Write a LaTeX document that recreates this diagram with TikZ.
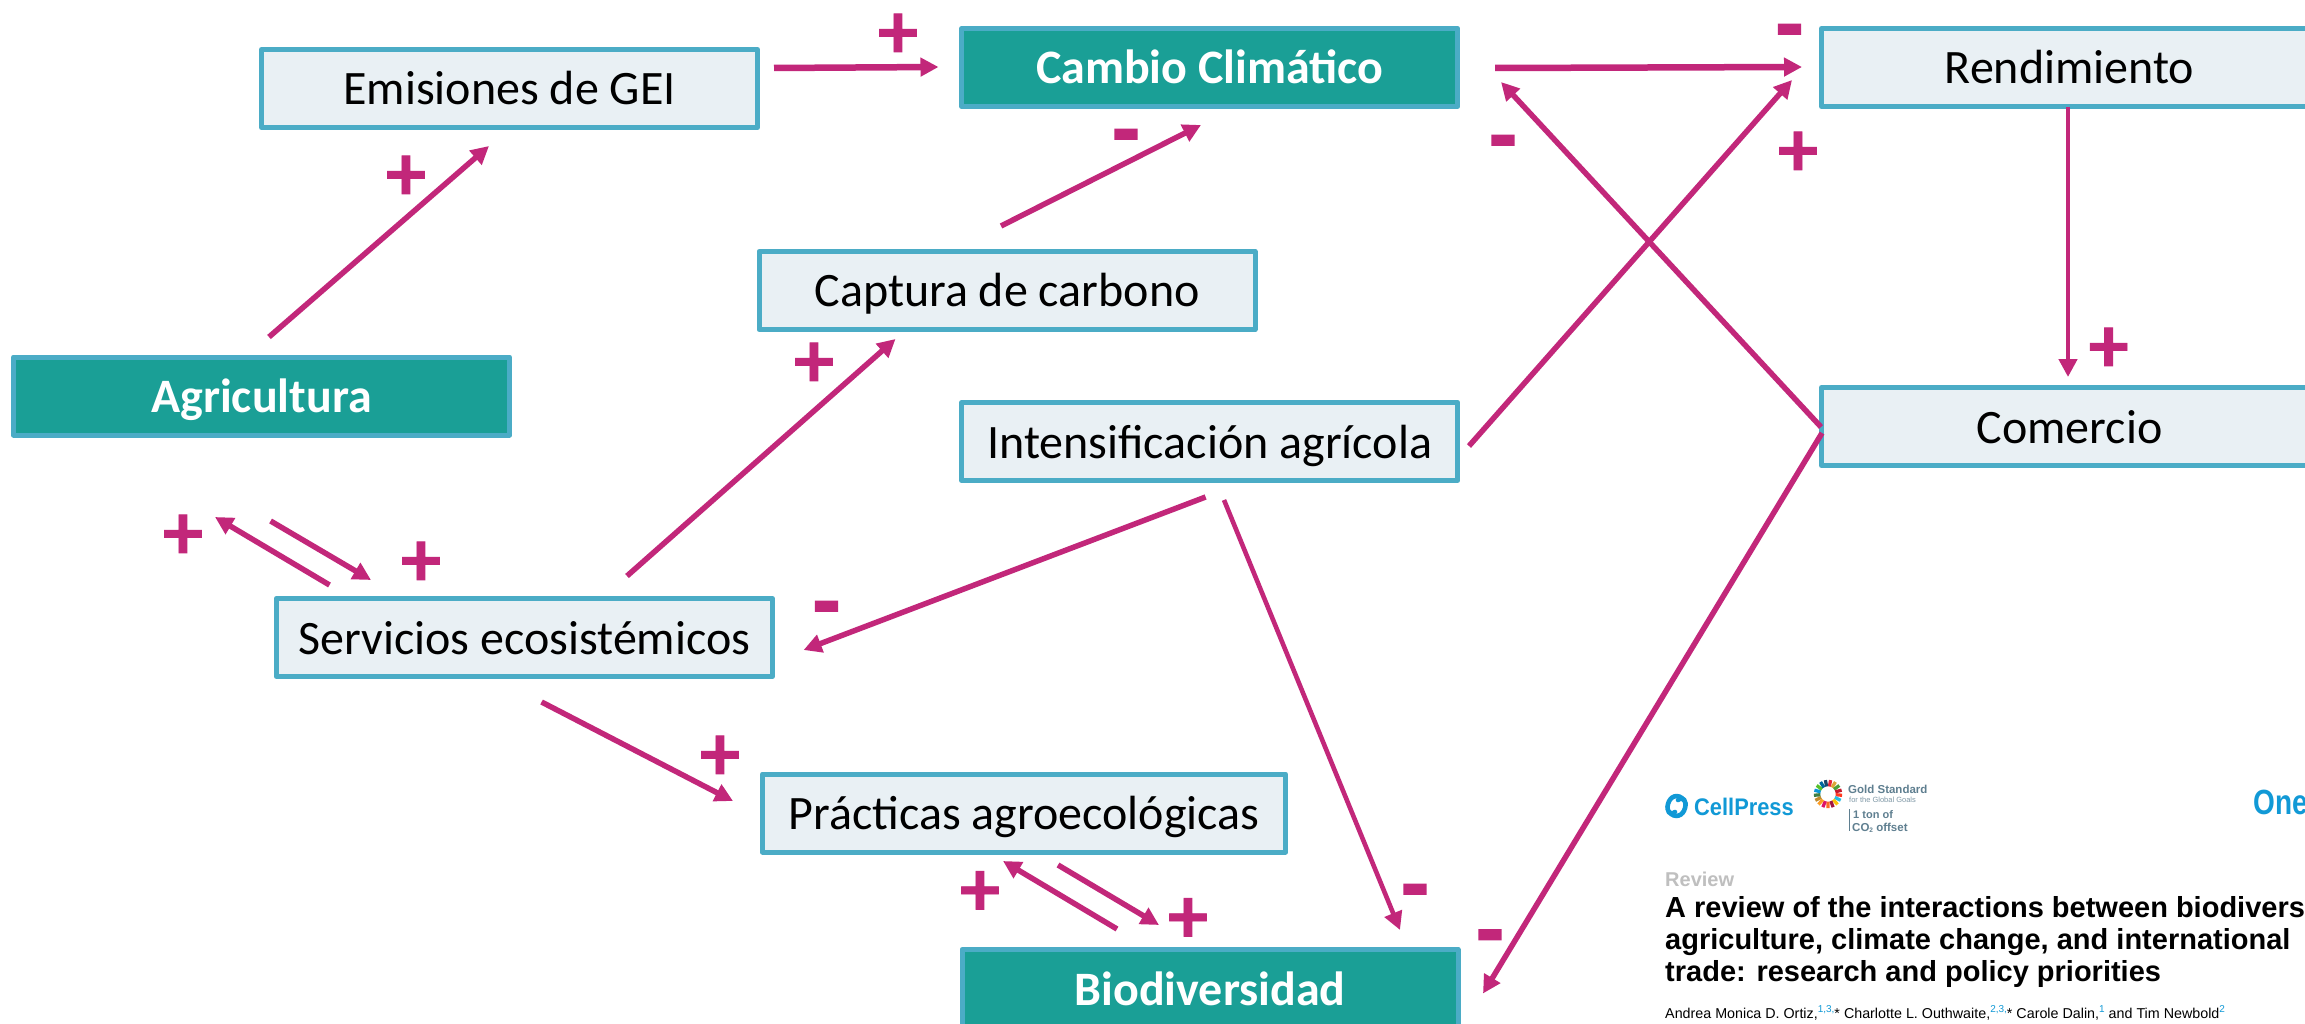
\documentclass[tikz,border=0pt]{standalone}
\usepackage{graphicx}
\usepackage{fontspec}
\setmainfont{Carlito}
\newfontfamily\hel{Liberation Sans}
\newfontfamily\plusfont[BoldFeatures={FakeBold=1}]{Carlito}
\newfontfamily\minusfont[BoldFeatures={FakeBold=3}]{Carlito}
\usetikzlibrary{arrows.meta}
\definecolor{edgeblue}{HTML}{4BACC6}
\definecolor{paleblue}{HTML}{E9F0F4}
\definecolor{tealbox}{HTML}{1A9F96}
\definecolor{magentaline}{HTML}{C2277A}
\definecolor{cpblue}{HTML}{1199D6}
\definecolor{gsgrey}{HTML}{5F7F90}
\newcommand{\affsup}[1]{\raisebox{5.5pt}{\textcolor{cpblue}{\fontsize{10}{10}\selectfont #1}}}
\tikzset{
  basebox/.style={draw=edgeblue,line width=5pt,line join=round,inner sep=0pt,
    font=\fontsize{48}{54}\selectfont,text height=41pt,text depth=8pt},
  palebox/.style={basebox,fill=paleblue,text=black},
  tealnode/.style={basebox,fill=tealbox,text=white,font=\fontsize{48}{54}\selectfont\bfseries},
  w496/.style={minimum width=496pt,minimum height=78pt},
  link/.style={draw=magentaline,line width=5.5pt,-{Triangle[length=18pt,width=18pt]}},
  linkthick/.style={link,line width=6.5pt},
  linkthin/.style={link,line width=4.6pt},
  plussign/.style={text=magentaline,inner sep=0pt,yshift=-4pt,font=\plusfont\bfseries\fontsize{80}{80}\selectfont},
  negsign/.style={text=magentaline,inner sep=0pt,yshift=-10pt,font=\minusfont\bfseries\fontsize{84}{84}\selectfont},
  paper/.style={inner sep=0pt,anchor=base west,font=\hel\bfseries\fontsize{29}{32}\selectfont,text=black},
  plain/.style={inner sep=0pt,anchor=base west,font=\hel},
}
\begin{document}
\begin{tikzpicture}[x=1pt,y=-1pt]
\useasboundingbox (0,0) rectangle (2305,1024);
\clip (0,0) rectangle (2305,1024);
\fill[white] (0,0) rectangle (2305,1024);

% boxes
\node[palebox,w496] (emis) at (509.5,88.5) {Emisiones de GEI};
\node[tealnode,w496] (agri) at (261.5,396) {Agricultura};
\node[tealnode,w496] (cambio) at (1209.7,67.5) {Cambio Climático};
\node[palebox,w496] (rend) at (2069.5,67.5) {Rendimiento};
\node[palebox,w496] (comer) at (2069.5,426.5) {Comercio};
\node[palebox,w496] (captura) at (1007,290.5) {Captura de carbono};
\node[palebox,w496] (intens) at (1209.7,441.5) {Intensificación agrícola};
\node[palebox,w496] (serv) at (524.3,637.5) {Servicios ecosistémicos};
\node[palebox,minimum width=523pt,minimum height=78pt] (pract) at (1024,813) {Prácticas agroecológicas};
\node[tealnode,w496] (bio) at (1210,988.5) {Biodiversidad};

% connector ends
\coordinate (a1) at (269,337);    \coordinate (a2) at (489,146);
\coordinate (b1) at (774,68);     \coordinate (b2) at (938.5,67);
\coordinate (c1) at (1001,226);   \coordinate (c2) at (1201,125);
\coordinate (d1) at (627,576);    \coordinate (d2) at (895.5,339);
\coordinate (e1) at (1495,68);    \coordinate (e2) at (1802,67);
\coordinate (f1) at (1821,427);   \coordinate (f2) at (1501,82);
\coordinate (g1) at (1469,446);   \coordinate (g2) at (1792,80);
\coordinate (h1) at (2068,107);   \coordinate (h2) at (2068,377);
\coordinate (i1) at (1822,433);   \coordinate (i2) at (1483,993.5);
\coordinate (j1) at (1205.6,497); \coordinate (j2) at (803.6,650);
\coordinate (k1) at (1224,500);   \coordinate (k2) at (1400,930);
\coordinate (l1) at (329.5,585);  \coordinate (l2) at (215,517);
\coordinate (m1) at (270.6,521);  \coordinate (m2) at (371,580);
\coordinate (n1) at (541.6,702);  \coordinate (n2) at (733,801);
\coordinate (o1) at (1117,929);   \coordinate (o2) at (1003,861);
\coordinate (p1) at (1058,865);   \coordinate (p2) at (1159,925);

% connectors
\draw[link] (a1) -- (a2);
\draw[linkthick] (b1) -- (b2);
\draw[link] (c1) -- (c2);
\draw[link] (d1) -- (d2);
\draw[linkthick] (e1) -- (e2);
\draw[link] (f1) -- (f2);
\draw[link] (g1) -- (g2);
\draw[linkthin] (h1) -- (h2);
\draw[link] (i1) -- (i2);
\draw[link] (j1) -- (j2);
\draw[linkthin] (k1) -- (k2);
\draw[link] (l1) -- (l2);
\draw[link] (m1) -- (m2);
\draw[link] (n1) -- (n2);
\draw[link] (o1) -- (o2);
\draw[link] (p1) -- (p2);

% signs
\node[plussign] (s1) at (406,174) {+};
\node[plussign] (s2) at (898,32) {+};
\node[negsign] (s3) at (1126,134) {-};
\node[plussign] (s4) at (814,361) {+};
\node[negsign] (s5) at (1789.5,29) {-};
\node[plussign] (s6) at (1798,150) {+};
\node[negsign] (s7) at (1503,140) {-};
\node[plussign] (s8) at (2108.6,346) {+};
\node[plussign] (s9) at (183,533) {+};
\node[plussign] (s10) at (421,560) {+};
\node[negsign] (s11) at (826.5,606) {-};
\node[plussign] (s12) at (720,754) {+};
\node[plussign] (s13) at (980,889.5) {+};
\node[plussign] (s14) at (1188,916.5) {+};
\node[negsign] (s15) at (1415,889) {-};
\node[negsign] (s16) at (1490,934.5) {-};

% paper clipping: logos
\begin{scope}[cpblue,line width=4.6pt,line cap=round]
  \draw (1684,800) .. controls (1678,793) and (1670,796) .. (1668,804) .. controls (1666,811) and (1670,816) .. (1675,812);
  \draw (1669,812) .. controls (1675,819) and (1683,816) .. (1685,808) .. controls (1687,801) and (1683,796) .. (1678,800);
\end{scope}
\node[plain,text=cpblue,font=\hel\bfseries\fontsize{24}{26}\selectfont] (cellpress) at (1694,815) {\scalebox{.91}[1]{CellPress}};
\foreach \c [count=\i from 0] in {E5243B,DDA63A,4C9F38,C5192D,FF3A21,26BDE2,FCC30B,A21942,FD6925,DD1367,FD9D24,BF8B2E,3F7E44,0A97D9,56C02B,00689D,19486A}{
  \definecolor{sdg}{HTML}{\c}
  \draw[sdg,line width=6.5pt] ({1828+11*cos(90-\i*21.18-2)},{794-11*sin(90-\i*21.18-2)})
    -- ({1828+11*cos(90-\i*21.18-19)},{794-11*sin(90-\i*21.18-19)});
}
\node[plain,text=gsgrey,font=\hel\bfseries\fontsize{11.5}{12}\selectfont] (gold) at (1848,793) {Gold Standard};
\node[plain,text=gsgrey!80,font=\hel\fontsize{7.5}{8}\selectfont] (goals) at (1849,802) {for the Global Goals};
\draw[gsgrey,line width=0.8pt] (1849,809) -- (1849,831);
\node[plain,text=gsgrey,font=\hel\bfseries\fontsize{11}{12}\selectfont] (ton) at (1853,818) {1 ton of};
\node[plain,text=gsgrey,font=\hel\bfseries\fontsize{11.5}{12}\selectfont] (offset) at (1852,831) {CO\raisebox{-1.5pt}{\fontsize{6.5}{7}\selectfont 2} offset};
\node[plain,text=cpblue,font=\hel\bfseries\fontsize{35}{40}\selectfont] (one) at (2253,814) {\scalebox{.8}[1]{One}};

% paper clipping: text
\node[plain,text=black!25,font=\hel\bfseries\fontsize{20}{22}\selectfont] (review) at (1665,886) {Review};
\node[paper] (t1) at (1665,917) {A review of the interactions between biodivers};
\node[paper] (t2) at (1665,949) {agriculture, climate change, and international};
\node[paper] (t3) at (1665,981) {trade: research and policy priorities};
\node[plain,text=black,font=\hel\fontsize{14.3}{16}\selectfont] (authors) at (1665,1018)
  {Andrea Monica D. Ortiz,\affsup{1,3,}* Charlotte L. Outhwaite,\affsup{2,3,}* Carole Dalin,\affsup{1} and Tim Newbold\affsup{2}};
\end{tikzpicture}
\end{document}
